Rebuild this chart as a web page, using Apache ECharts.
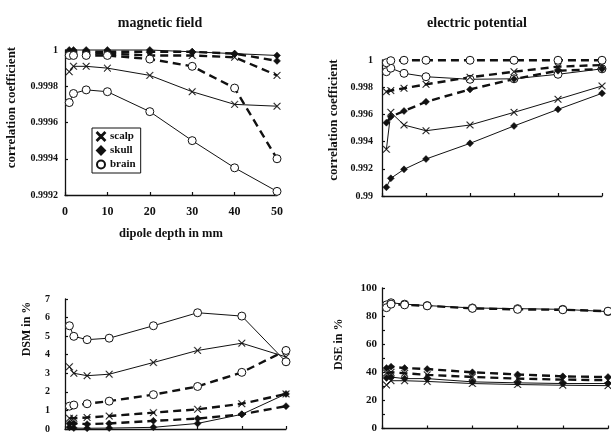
<!DOCTYPE html>
<html>
<head>
<meta charset="utf-8">
<script src="https://cdn.jsdelivr.net/npm/echarts@6/dist/echarts.min.js"></script>
<style>
  html, body { margin: 0; padding: 0; background: #fff; }
  #chart { width: 611px; height: 434px; }
</style>
</head>
<body>
<div id="chart"></div>
<script>
// dipole depths in mm
const depths = [1, 2, 5, 10, 20, 30, 40, 50];

// magnetic field, correlation coefficient
const magScalpSolid = [0.99988, 0.99991, 0.99991, 0.99990, 0.99986, 0.99977, 0.99970, 0.99969];
const magSkullSolid = [1.0, 1.0, 1.0, 1.0, 1.0, 0.99999, 0.99998, 0.99997];
const magBrainSolid = [0.99971, 0.99976, 0.99978, 0.99977, 0.99966, 0.99950, 0.99935, 0.99922];
const magScalpDash = [0.99998, 0.99998, 0.99998, 0.99998, 0.99997, 0.99997, 0.99996, 0.99986];
const magSkullDash = [0.99999, 0.99999, 0.99999, 0.99999, 0.99999, 0.99999, 0.99998, 0.99994];
const magBrainDash = [0.99997, 0.99997, 0.99997, 0.99997, 0.99995, 0.99991, 0.99979, 0.99940];

// electric potential, correlation coefficient
const elScalpSolid = [0.99343, 0.99615, 0.99522, 0.99480, 0.99522, 0.99615, 0.99711, 0.99809];
const elSkullSolid = [0.99064, 0.99130, 0.99196, 0.99272, 0.99387, 0.99515, 0.99637, 0.99755];
const elBrainSolid = [0.99914, 0.99940, 0.99902, 0.99877, 0.99858, 0.99862, 0.99895, 0.99935];
const elScalpDash = [0.99767, 0.99775, 0.99792, 0.99821, 0.99873, 0.99914, 0.99951, 0.99963];
const elSkullDash = [0.99539, 0.99583, 0.99625, 0.99693, 0.99784, 0.99860, 0.99921, 0.99934];
const elBrainDash = [0.99980, 0.99995, 0.99998, 0.99998, 0.99998, 0.99998, 0.99998, 0.99998];

// DSM in %
const dsmScalpSolid = [3.35, 3.0, 2.87, 2.95, 3.58, 4.23, 4.62, 3.88];
const dsmSkullSolid = [0.09, 0.05, 0.04, 0.05, 0.09, 0.30, 0.79, 1.89];
const dsmBrainSolid = [5.56, 4.99, 4.81, 4.89, 5.56, 6.26, 6.08, 3.62];
const dsmScalpDash = [0.58, 0.58, 0.62, 0.70, 0.88, 1.06, 1.36, 1.89];
const dsmSkullDash = [0.30, 0.30, 0.26, 0.30, 0.44, 0.56, 0.79, 1.23];
const dsmBrainDash = [1.23, 1.29, 1.36, 1.50, 1.85, 2.29, 3.05, 4.23];

// DSE in %
const dseScalpSolid = [31, 34, 34, 33.5, 32, 31.3, 30.8, 30.5];
const dseSkullSolid = [36, 36.6, 35.5, 35.5, 33.2, 32.5, 32.0, 32.0];
const dseBrainSolid = [88, 89.5, 88.5, 87.5, 85.8, 85.3, 84.8, 83.2];
const dseScalpDash = [39.5, 40, 39.3, 38.2, 36.7, 35.5, 34.8, 34.4];
const dseSkullDash = [43, 44, 43, 42.3, 40, 38.5, 37.1, 36.6];
const dseBrainDash = [86, 88.5, 88, 87.3, 85.5, 84.8, 84.5, 83.5];

const myChart = echarts.init(document.getElementById('chart'));

const ink = '#111';
const font = 'Liberation Serif';
// thin "x" marker
const crossPath = 'path://M0,0.7L0.7,0L5,4.3L9.3,0L10,0.7L5.7,5L10,9.3L9.3,10L5,5.7L0.7,10L0,9.3L4.3,5Z';

const symbols = {
  scalp: { symbol: crossPath, size: 7, fill: ink, border: 0.4 },
  skull: { symbol: 'diamond', size: 7, fill: ink, border: 0.5 },
  brain: { symbol: 'circle', size: 8, fill: '#fff', border: 1 }
};

function makeSeries(name, values, dashed, idx) {
  const s = symbols[name];
  return {
    type: 'line',
    name: name,
    xAxisIndex: idx,
    yAxisIndex: idx,
    data: depths.map((d, i) => [d, values[i]]),
    symbol: s.symbol,
    symbolSize: s.size,
    showAllSymbol: true,
    clip: false,
    lineStyle: { color: ink, width: dashed ? 2.4 : 1, type: dashed ? [8, 5] : 'solid' },
    itemStyle: { color: s.fill, borderColor: ink, borderWidth: s.border },
    emphasis: { disabled: true }
  };
}

function xAxisFor(idx, showLabels) {
  return {
    type: 'value', gridIndex: idx, min: 0, max: 50, interval: 10,
    axisLine: { show: true, onZero: false, lineStyle: { color: ink, width: 1.3 } },
    axisTick: { show: true, inside: true, length: 3, lineStyle: { color: ink, width: 1.2 } },
    splitLine: { show: false },
    axisLabel: { show: showLabels, color: ink, fontFamily: font, fontWeight: 'bold', fontSize: 12, margin: 11 }
  };
}

function yAxisFor(idx, min, max, interval, name, nameGap, nameSize, shift, labelSize, margin, fmt) {
  return {
    type: 'value', gridIndex: idx, min: min, max: max, interval: interval,
    name: name, nameLocation: 'middle', nameGap: nameGap,
    nameTextStyle: { color: ink, fontFamily: font, fontWeight: 'bold', fontSize: nameSize, padding: [0, 0, 0, shift] },
    axisLine: { show: true, onZero: false, lineStyle: { color: ink, width: 1.3 } },
    axisTick: { show: true, inside: true, length: 3, lineStyle: { color: ink, width: 1.2 } },
    splitLine: { show: false },
    axisLabel: { color: ink, fontFamily: font, fontWeight: 'bold', fontSize: labelSize, margin: margin, formatter: fmt }
  };
}

let option = {
  backgroundColor: '#fff',
  animation: false,
  title: [
    { text: 'magnetic field', left: 155, top: 11, textAlign: 'center',
      textStyle: { color: ink, fontFamily: font, fontWeight: 'bold', fontSize: 14 } },
    { text: 'electric potential', left: 472, top: 11, textAlign: 'center',
      textStyle: { color: ink, fontFamily: font, fontWeight: 'bold', fontSize: 14 } }
  ],
  legend: {
    orient: 'vertical',
    left: 92, top: 128,
    itemWidth: 8, itemHeight: 8, itemGap: 3,
    padding: [3, 5, 3, 4],
    borderColor: ink, borderWidth: 1,
    textStyle: { color: ink, fontFamily: font, fontWeight: 'bold', fontSize: 11 },
    data: [
      { name: 'scalp', icon: crossPath },
      { name: 'skull', icon: 'diamond' },
      { name: 'brain', icon: 'circle' }
    ]
  },
  grid: [
    { left: 65, top: 50, width: 212, height: 145 },
    { left: 382, top: 60, width: 220, height: 136 },
    { left: 65, top: 299, width: 221, height: 133 },
    { left: 382, top: 288, width: 226, height: 145 }
  ],
  xAxis: [
    Object.assign(xAxisFor(0, true), {
      name: 'dipole depth in mm', nameLocation: 'middle', nameGap: 32,
      nameTextStyle: { color: ink, fontFamily: font, fontWeight: 'bold', fontSize: 12.5 }
    }),
    xAxisFor(1, false),
    xAxisFor(2, false),
    xAxisFor(3, false)
  ],
  yAxis: [
    yAxisFor(0, 0.9992, 1, 0.0002, 'correlation coefficient', 47, 13, 30, 10, 7,
      v => (v >= 0.99999 ? '1' : v.toFixed(4))),
    yAxisFor(1, 0.99, 1, 0.002, 'correlation coefficient', 42, 13, 16, 10, 9,
      v => (v >= 0.99999 ? '1' : parseFloat(v.toFixed(3)).toString())),
    yAxisFor(2, 0, 7, 1, 'DSM in %', 32, 12, 70, 10, 15, v => String(v)),
    yAxisFor(3, 0, 100, 10, 'DSE in %', 37, 12, 28, 11, 5, v => (v % 20 === 0 ? String(v) : ''))
  ],
  series: [
    makeSeries('scalp', magScalpSolid, false, 0),
    makeSeries('skull', magSkullSolid, false, 0),
    makeSeries('brain', magBrainSolid, false, 0),
    makeSeries('scalp', magScalpDash, true, 0),
    makeSeries('skull', magSkullDash, true, 0),
    makeSeries('brain', magBrainDash, true, 0),

    makeSeries('scalp', elScalpSolid, false, 1),
    makeSeries('skull', elSkullSolid, false, 1),
    makeSeries('brain', elBrainSolid, false, 1),
    makeSeries('scalp', elScalpDash, true, 1),
    makeSeries('skull', elSkullDash, true, 1),
    makeSeries('brain', elBrainDash, true, 1),

    makeSeries('scalp', dsmScalpSolid, false, 2),
    makeSeries('skull', dsmSkullSolid, false, 2),
    makeSeries('brain', dsmBrainSolid, false, 2),
    makeSeries('scalp', dsmScalpDash, true, 2),
    makeSeries('skull', dsmSkullDash, true, 2),
    makeSeries('brain', dsmBrainDash, true, 2),

    makeSeries('scalp', dseScalpSolid, false, 3),
    makeSeries('skull', dseSkullSolid, false, 3),
    makeSeries('brain', dseBrainSolid, false, 3),
    makeSeries('scalp', dseScalpDash, true, 3),
    makeSeries('skull', dseSkullDash, true, 3),
    makeSeries('brain', dseBrainDash, true, 3)
  ]
};

myChart.setOption(option);
</script>
</body>
</html>
